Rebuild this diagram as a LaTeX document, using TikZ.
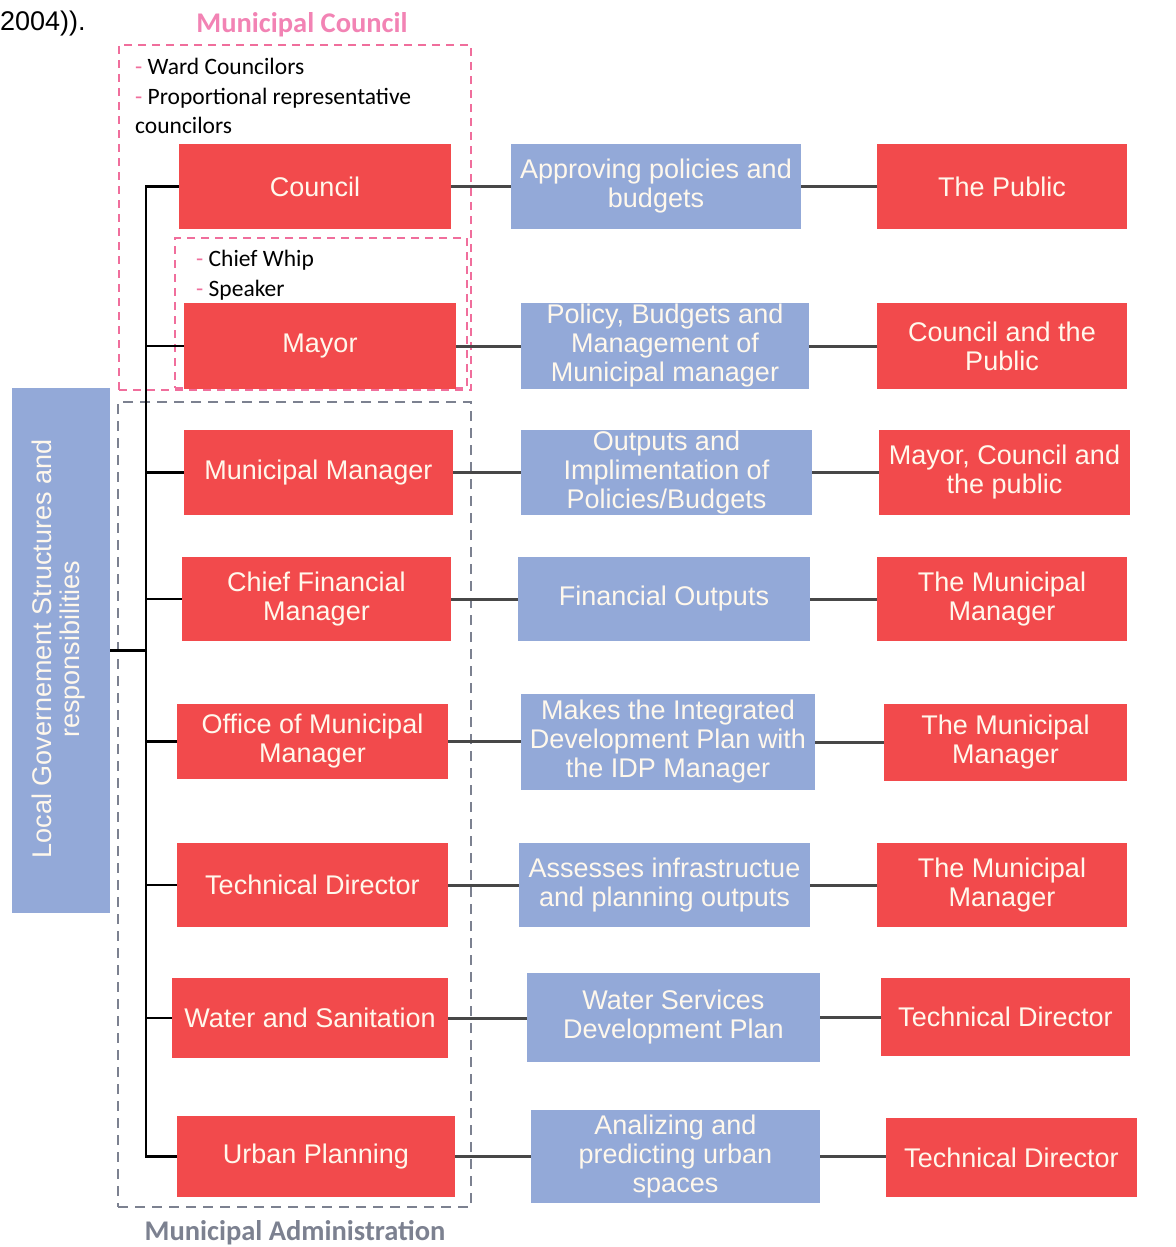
\documentclass[tikz,border=0pt]{standalone}
\usepackage{fontspec}
\setmainfont{Liberation Sans}
\newfontfamily\notefont{Carlito}
\usetikzlibrary{calc}
\definecolor{boxred}{HTML}{F24A4C}
\definecolor{boxblue}{HTML}{93A9D8}
\definecolor{framepink}{HTML}{F06E9C}
\definecolor{titlepink}{HTML}{F283B4}
\definecolor{framegray}{HTML}{7C8190}
\definecolor{linkgray}{HTML}{474747}
\definecolor{boxtext}{HTML}{FFF8EC}
\begin{document}
\begin{tikzpicture}[x=1pt,y=-1pt,
  boxtxt/.style={font=\fontsize{27}{29}\selectfont, text=boxtext, align=center, inner sep=0pt},
  redbox/.style={boxtxt, fill=boxred},
  bluebox/.style={boxtxt, fill=boxblue},
  tree/.style={draw=black, line width=2.6pt},
  link/.style={draw=linkgray, line width=3pt},
  councilframe/.style={draw=framepink, line width=1.1pt, dash pattern=on 8pt off 6pt},
  adminframe/.style={draw=framegray, line width=1.2pt, dash pattern=on 10pt off 7pt},
  note/.style={font=\notefont\fontsize{23.5}{29.5}\selectfont, align=left, inner sep=0pt, text=black},
  frametitle/.style={font=\notefont\bfseries\fontsize{28.5}{30}\selectfont, inner sep=0pt}
]
\useasboundingbox (0,0) rectangle (1175,1247);

% citation fragment at the top left
\node[anchor=west, inner sep=0pt, font=\fontsize{27}{30}\selectfont] (cite) at (0,24) {2004)).};

% group frames
\node[councilframe, minimum width=352pt, minimum height=345pt] (mcframe) at (295,217.5) {};
\node[councilframe, minimum width=292pt, minimum height=150pt] (mayorframe) at (321,313) {};
\node[adminframe, minimum width=353pt, minimum height=805pt] (adframe) at (294.5,804.5) {};
\node[frametitle, text=titlepink] (mctitle) at (302,25) {Municipal Council};
\node[frametitle, text=framegray] (adtitle) at (295,1233) {Municipal Administration};

% member notes
\node[note, anchor=west] (councilnote) at (135,96)
  {\textcolor{framepink}{-} Ward Councilors\\\textcolor{framepink}{-} Proportional representative\\councilors};
\node[note, anchor=west] (mayornote) at (196,275)
  {\textcolor{framepink}{-} Chief Whip\\\textcolor{framepink}{-} Speaker};

% side heading
\node[fill=boxblue, minimum width=98pt, minimum height=525pt, inner sep=0pt] (side) at (61,650.5) {};
\node[rotate=90, align=center, inner sep=0pt, text=boxtext, font=\fontsize{27}{28}\selectfont] (sidetext) at (59,649)
  {Local Governement Structures and\\responsibilities};

% structures
\node[redbox, minimum width=272pt, minimum height=85pt] (council) at (315,186.5) {Council};
\node[redbox, minimum width=272pt, minimum height=86pt] (mayor) at (320,346) {Mayor};
\node[redbox, minimum width=269pt, minimum height=85pt] (mm) at (318.5,472.5) {Municipal Manager};
\node[redbox, minimum width=269pt, minimum height=84pt] (cfm) at (316.5,599) {Chief Financial\\Manager};
\node[redbox, minimum width=271pt, minimum height=75pt] (omm) at (312.5,741.5) {Office of Municipal\\Manager};
\node[redbox, minimum width=271pt, minimum height=84pt] (td) at (312.5,885) {Technical Director};
\node[redbox, minimum width=276pt, minimum height=80pt] (ws) at (310,1018) {Water and Sanitation};
\node[redbox, minimum width=278pt, minimum height=81pt] (up) at (316,1156.5) {Urban Planning};

% responsibilities
\node[bluebox, minimum width=290pt, minimum height=85pt] (r1) at (656,186.5) {Approving policies and\\budgets};
\node[bluebox, minimum width=288pt, minimum height=86pt] (r2) at (665,346) {Policy, Budgets and\\Management of\\Municipal manager};
\node[bluebox, minimum width=291pt, minimum height=85pt] (r3) at (666.5,472.5) {Outputs and\\Implimentation of\\Policies/Budgets};
\node[bluebox, minimum width=292pt, minimum height=84pt] (r4) at (664,599) {Financial Outputs};
\node[bluebox, minimum width=294pt, minimum height=96pt] (r5) at (668,742) {Makes the Integrated\\Development Plan with\\the IDP Manager};
\node[bluebox, minimum width=291pt, minimum height=84pt] (r6) at (664.5,885) {Assesses infrastructue\\and planning outputs};
\node[bluebox, minimum width=293pt, minimum height=89pt] (r7) at (673.5,1017.5) {Water Services\\Development Plan};
\node[bluebox, minimum width=289pt, minimum height=93pt] (r8) at (675.5,1156.5) {Analizing and\\predicting urban\\spaces};

% accountable to
\node[redbox, minimum width=250pt, minimum height=85pt] (a1) at (1002,186.5) {The Public};
\node[redbox, minimum width=250pt, minimum height=86pt] (a2) at (1002,346) {Council and the\\Public};
\node[redbox, minimum width=251pt, minimum height=85pt] (a3) at (1004.5,472.5) {Mayor, Council and\\the public};
\node[redbox, minimum width=250pt, minimum height=84pt] (a4) at (1002,599) {The Municipal\\Manager};
\node[redbox, minimum width=243pt, minimum height=77pt] (a5) at (1005.5,742.5) {The Municipal\\Manager};
\node[redbox, minimum width=250pt, minimum height=84pt] (a6) at (1002,885) {The Municipal\\Manager};
\node[redbox, minimum width=249pt, minimum height=78pt] (a7) at (1005.5,1017) {Technical Director};
\node[redbox, minimum width=251pt, minimum height=79pt] (a8) at (1011.5,1157.5) {Technical Director};

% hierarchy tree
\coordinate (tk) at (146,0);
\draw[tree] (council.west) -- (council.west -| tk) -- (up.west -| tk) -- (up.west);
\foreach \n in {mayor,mm,cfm,omm,td,ws}
  \draw[tree] (\n.west) -- (\n.west -| tk);
\draw[tree] (side.east) -- (side.east -| tk);

% row connectors
\foreach \l/\m/\r in {council/r1/a1, mayor/r2/a2, mm/r3/a3, cfm/r4/a4, omm/r5/a5, td/r6/a6, ws/r7/a7, up/r8/a8} {
  \draw[link] (\l.east) -- (\l.east -| \m.west);
  \draw[link] (\m.east) -- (\m.east -| \r.west);
}
\end{tikzpicture}
\end{document}
